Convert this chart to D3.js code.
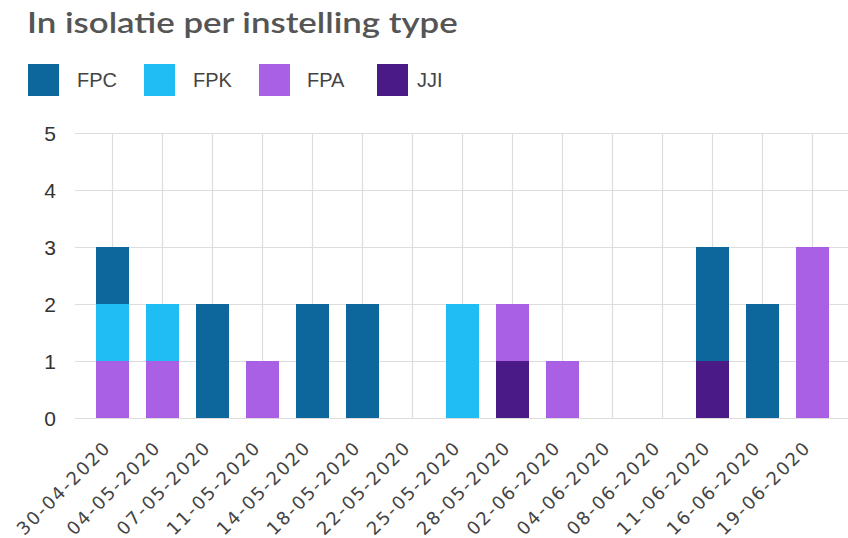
<!DOCTYPE html>
<meta charset="utf-8">
<style>
body { margin: 0; background: #fff; }
.title { font-family: "Lato", "Noto Sans", sans-serif; font-size: 28px; font-weight: 600; fill: #555; }
.legend text { font-family: "Liberation Sans", Arial, sans-serif; font-size: 20px; fill: #444; }
.tick text { font-family: "Liberation Sans", Arial, sans-serif; fill: #333; }
.xlab .tick text { font-family: "DejaVu Sans", sans-serif; fill: #444; }
.grid line { stroke: #ddd; stroke-width: 1.2; }
</style>
<body>
<div id="chart"></div>
<script src="https://cdnjs.cloudflare.com/ajax/libs/d3/7.8.5/d3.min.js"></script>
<script>
// categories and series
var dates = ["30-04-2020", "04-05-2020", "07-05-2020", "11-05-2020", "14-05-2020",
  "18-05-2020", "22-05-2020", "25-05-2020", "28-05-2020", "02-06-2020",
  "04-06-2020", "08-06-2020", "11-06-2020", "16-06-2020", "19-06-2020"];
var seriesNames = ["FPC", "FPK", "FPA", "JJI"];
var fpc = [1, 0, 2, 0, 2, 2, 0, 0, 0, 0, 0, 0, 2, 2, 0];
var fpk = [1, 1, 0, 0, 0, 0, 0, 2, 0, 0, 0, 0, 0, 0, 0];
var fpa = [1, 1, 0, 1, 0, 0, 0, 0, 1, 1, 0, 0, 0, 0, 3];
var jji = [0, 0, 0, 0, 0, 0, 0, 0, 1, 0, 0, 0, 1, 0, 0];
var yTicks = [0, 1, 2, 3, 4, 5];

var colors = {FPC: "#0d679c", FPK: "#1fbdf3", FPA: "#a960e4", JJI: "#4a1a87"};

var width = 848, height = 538;

var rows = dates.map(function(d, i) {
  return {date: d, FPC: fpc[i], FPK: fpk[i], FPA: fpa[i], JJI: jji[i]};
});

// stacked bottom-up: JJI, FPA, FPK, FPC
var stack = d3.stack().keys(["JJI", "FPA", "FPK", "FPC"]);
var layers = stack(rows);

var x = d3.scaleBand()
  .domain(dates)
  .range([87.5, 837.5])
  .paddingInner(0.34)
  .paddingOuter(0.17);

var y = d3.scaleLinear()
  .domain([0, 5])
  .range([418, 133]);

var svg = d3.select("#chart").append("svg")
  .attr("width", width)
  .attr("height", height);

// title, stretched a bit to the reference width
var title = svg.append("text")
  .attr("class", "title")
  .attr("x", 0)
  .attr("y", 0)
  .text("In isolatie per instelling type");
var tw = title.node().getComputedTextLength();
title.attr("transform", "translate(27,33) scale(" + (431 / tw) + ",1)");

// legend
var legendX = [28, 144, 259, 377];
var legendTextX = [77, 193, 307, 417];
var legend = svg.append("g").attr("class", "legend");
seriesNames.forEach(function(name, i) {
  legend.append("rect")
    .attr("x", legendX[i])
    .attr("y", 64)
    .attr("width", 31)
    .attr("height", 32)
    .attr("fill", colors[name]);
  legend.append("text")
    .attr("x", legendTextX[i])
    .attr("y", 87)
    .text(name);
});

// horizontal grid
svg.append("g")
  .attr("class", "grid")
  .attr("transform", "translate(75,0)")
  .call(d3.axisLeft(y).tickValues(yTicks).tickSize(-773).tickFormat(""))
  .call(function(g) { g.select(".domain").remove(); });

// vertical grid at category centres
svg.append("g")
  .attr("class", "grid")
  .selectAll("line")
  .data(dates)
  .join("line")
  .attr("x1", function(d) { return x(d) + x.bandwidth() / 2; })
  .attr("x2", function(d) { return x(d) + x.bandwidth() / 2; })
  .attr("y1", y(5))
  .attr("y2", y(0));

// bars
svg.append("g")
  .selectAll("g")
  .data(layers)
  .join("g")
  .attr("fill", function(d) { return colors[d.key]; })
  .selectAll("rect")
  .data(function(d) { return d; })
  .join("rect")
  .attr("x", function(d) { return x(d.data.date); })
  .attr("width", x.bandwidth())
  .attr("y", function(d) { return y(d[1]); })
  .attr("height", function(d) { return y(d[0]) - y(d[1]); });

// y axis labels
svg.append("g")
  .attr("transform", "translate(56,0)")
  .call(d3.axisLeft(y).tickValues(yTicks).tickSize(0).tickPadding(0).tickFormat(d3.format("d")))
  .call(function(g) { g.select(".domain").remove(); })
  .selectAll("text")
  .style("font-size", "21px")
  .attr("dy", "0.36em");

// x axis labels
svg.append("g")
  .attr("class", "xlab")
  .attr("transform", "translate(0,428)")
  .call(d3.axisBottom(x).tickSize(0).tickPadding(0))
  .call(function(g) { g.select(".domain").remove(); })
  .selectAll("text")
  .style("font-size", "18px")
  .attr("text-anchor", "end")
  .attr("y", 0)
  .attr("dy", 0)
  .attr("textLength", 122)
  .attr("lengthAdjust", "spacing")
  .attr("transform", "translate(-2,22) rotate(-45)");
</script>
</body>
